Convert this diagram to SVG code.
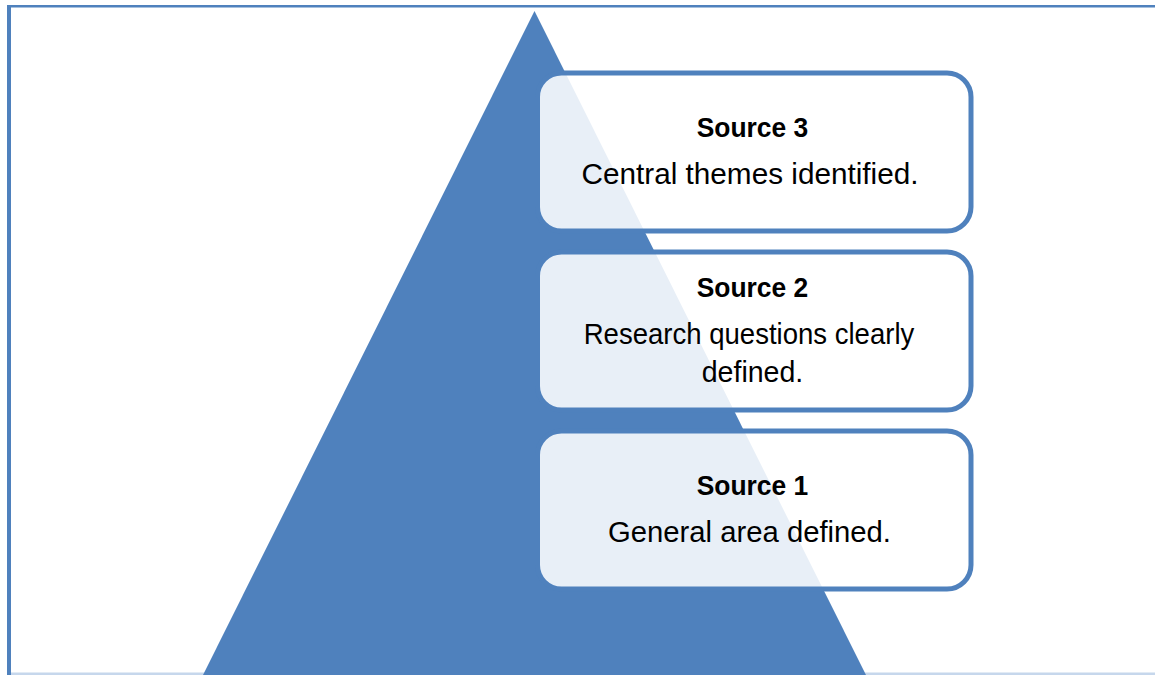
<svg xmlns="http://www.w3.org/2000/svg" width="1155" height="675" viewBox="0 0 1155 675">
  <style>
    .frame { fill: #4f81bd; }
    .box { fill: #ffffff; fill-opacity: 0.87; stroke: #4f81bd; stroke-width: 5; }
    .title { font-family: "Liberation Sans", Arial, sans-serif; font-weight: bold; font-size: 28px; fill: #000000; text-anchor: middle; }
    .body { font-family: "Liberation Sans", Arial, sans-serif; font-size: 29px; fill: #000000; text-anchor: middle; }
  </style>
  <rect x="0" y="0" width="1155" height="675" fill="#ffffff"/>
  <g id="frame">
    <rect x="7" y="672.5" width="1148" height="2.5" fill="#c6d7ec"/>
    <rect class="frame" x="7" y="5" width="1148" height="2.5"/>
    <rect class="frame" x="7" y="5" width="4" height="670"/>
  </g>
  <g id="pyramid">
    <polygon points="534.5,11 203,675 866,675" fill="#4f81bd"/>
  </g>
  <g id="connectors"></g>
  <g id="source3">
    <rect class="box" x="537.5" y="73" width="433.5" height="158" rx="24" ry="24"/>
    <text class="title" x="752.5" y="137" textLength="111.6" lengthAdjust="spacingAndGlyphs">Source 3</text>
    <text class="body" x="750" y="184" textLength="337" lengthAdjust="spacingAndGlyphs">Central themes identified.</text>
  </g>
  <g id="source2">
    <rect class="box" x="537.5" y="252" width="433.5" height="158" rx="24" ry="24"/>
    <text class="title" x="752.5" y="297" textLength="111.6" lengthAdjust="spacingAndGlyphs">Source 2</text>
    <text class="body" x="749" y="344" textLength="330.6" lengthAdjust="spacingAndGlyphs">Research questions clearly</text>
    <text class="body" x="752.5" y="382" textLength="101.6" lengthAdjust="spacingAndGlyphs">defined.</text>
  </g>
  <g id="source1">
    <rect class="box" x="537.5" y="431" width="433.5" height="158" rx="24" ry="24"/>
    <text class="title" x="752.5" y="495" textLength="111.6" lengthAdjust="spacingAndGlyphs">Source 1</text>
    <text class="body" x="749.5" y="542" textLength="283" lengthAdjust="spacingAndGlyphs">General area defined.</text>
  </g>
</svg>
